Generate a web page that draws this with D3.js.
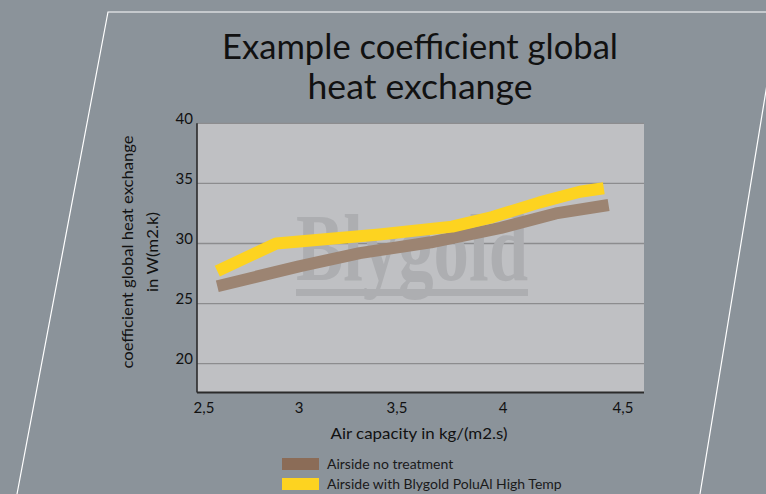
<!DOCTYPE html>
<html><head><meta charset="utf-8">
<script src="https://cdn.jsdelivr.net/npm/d3@7"></script>
<style>html,body{margin:0;padding:0;background:#8b939a;}svg{display:block;}</style>
</head><body>
<svg id="c" width="766" height="494"></svg>
<script>
const xTicks = [2.5, 3, 3.5, 4, 4.5];
const xTickLabels = ["2,5", "3", "3,5", "4", "4,5"];
const yTicks = [20, 25, 30, 35, 40];
const brownX = [2.57, 3.0, 3.31, 3.66, 3.99, 4.22, 4.44];
const brownY = [26.44, 28.1, 29.2, 30.1, 31.3, 32.5, 33.2];
const yellowX = [2.57, 2.88, 3.41, 3.76, 3.95, 4.15, 4.32, 4.42];
const yellowY = [27.7, 30.0, 30.75, 31.4, 32.2, 33.4, 34.3, 34.6];
const seriesNames = ["Airside no treatment", "Airside with Blygold PoluAl High Temp"];
const titleLines = ["Example coefficient global", "heat exchange"];
const xTitle = "Air capacity in kg/(m2.s)";
const yTitleLines = ["coefficient global heat exchange", "in W(m2.k)"];

const svg = d3.select("#c");
const font = "Lato, 'Open Sans', sans-serif";

svg.append("rect").attr("width",766).attr("height",494).attr("fill","#8b939a");
svg.append("path").attr("d","M17,494 L108,12 L770,12 M771,60 L700,494")
  .attr("fill","none").attr("stroke","#ffffff").attr("stroke-width",1.2);

const L=197, R=644, T=123.3, B=392.5;
const x = d3.scaleLinear().domain(xTicks).range([204,299,397,503,623]);
const y = d3.scaleLinear().domain([17.6,40]).range([B,T]);

svg.append("rect").attr("x",L).attr("y",T).attr("width",R-L).attr("height",B-T).attr("fill","#bfc0c3");

svg.append("g").selectAll("line").data(yTicks).join("line")
  .attr("x1",L).attr("x2",R).attr("y1",d=>y(d)).attr("y2",d=>y(d))
  .attr("stroke","#8c8c8e").attr("stroke-width",1.3);

const wm = svg.append("g");
wm.append("text").attr("x",296).attr("y",280).text("Blygold")
  .attr("font-family","'Liberation Serif','DejaVu Serif',serif").attr("font-size",96).attr("font-weight","bold")
  .attr("textLength",232).attr("lengthAdjust","spacingAndGlyphs")
  .attr("fill","#adaeb1");
wm.append("rect").attr("x",296).attr("y",289).attr("width",232).attr("height",7).attr("fill","#adaeb1");

svg.append("line").attr("x1",L).attr("x2",L).attr("y1",T).attr("y2",B).attr("stroke","#2b2b2b").attr("stroke-width",1.6);
svg.append("line").attr("x1",L).attr("x2",R).attr("y1",B).attr("y2",B).attr("stroke","#2b2b2b").attr("stroke-width",1.8);

svg.append("g").selectAll("text").data(yTicks).join("text")
  .attr("x",193).attr("y",d=>y(d)-5).attr("dy","0.35em").attr("text-anchor","end")
  .attr("font-family",font).attr("font-size",15).attr("fill","#111").text(d=>d);

svg.append("g").selectAll("text").data(xTicks).join("text")
  .attr("x",d=>x(d)).attr("y",408).attr("dy","0.35em").attr("text-anchor","middle")
  .attr("font-family",font).attr("font-size",15).attr("fill","#111").text((d,i)=>xTickLabels[i]);

const line = d3.line().x(d=>x(d[0])).y(d=>y(d[1]));
svg.append("path").datum(brownX.map((v,i)=>[v,brownY[i]])).attr("d",line)
  .attr("fill","none").attr("stroke","#9c8472").attr("stroke-width",12).attr("stroke-linejoin","round");
svg.append("path").datum(yellowX.map((v,i)=>[v,yellowY[i]])).attr("d",line)
  .attr("fill","none").attr("stroke","#fdd320").attr("stroke-width",12).attr("stroke-linejoin","round");

svg.append("g").selectAll("text").data(titleLines).join("text")
  .attr("x",420).attr("y",(d,i)=>59+i*40).attr("text-anchor","middle")
  .attr("font-family",font).attr("font-size",34).attr("font-weight",400).attr("fill","#111")
  .attr("textLength",(d,i)=>i===0?396:225).attr("lengthAdjust","spacingAndGlyphs").text(d=>d);

svg.append("text").attr("x",419).attr("y",433).attr("dy","0.35em").attr("text-anchor","middle")
  .attr("font-family",font).attr("font-size",16).attr("fill","#111")
  .attr("textLength",177).attr("lengthAdjust","spacingAndGlyphs").text(xTitle);

svg.append("g").attr("transform","translate(0,252) rotate(-90)").selectAll("text").data(yTitleLines).join("text")
  .attr("x",0).attr("y",(d,i)=>i===0?127:152).attr("dy","0.35em").attr("text-anchor","middle")
  .attr("font-family",font).attr("font-size",16).attr("fill","#111")
  .attr("textLength",(d,i)=>i===0?233:80).attr("lengthAdjust","spacingAndGlyphs").text(d=>d);

const lg = svg.append("g");
const legColors = ["#8b6c57","#fdd320"];
lg.selectAll("rect").data(seriesNames).join("rect")
  .attr("x",282).attr("y",(d,i)=>458+i*20).attr("width",37).attr("height",12)
  .attr("fill",(d,i)=>legColors[i]);
lg.selectAll("text").data(seriesNames).join("text")
  .attr("x",327).attr("y",(d,i)=>464+i*20).attr("dy","0.35em")
  .attr("font-family",font).attr("font-size",14).attr("fill","#1a1a1a").text(d=>d);
</script>
</body></html>
